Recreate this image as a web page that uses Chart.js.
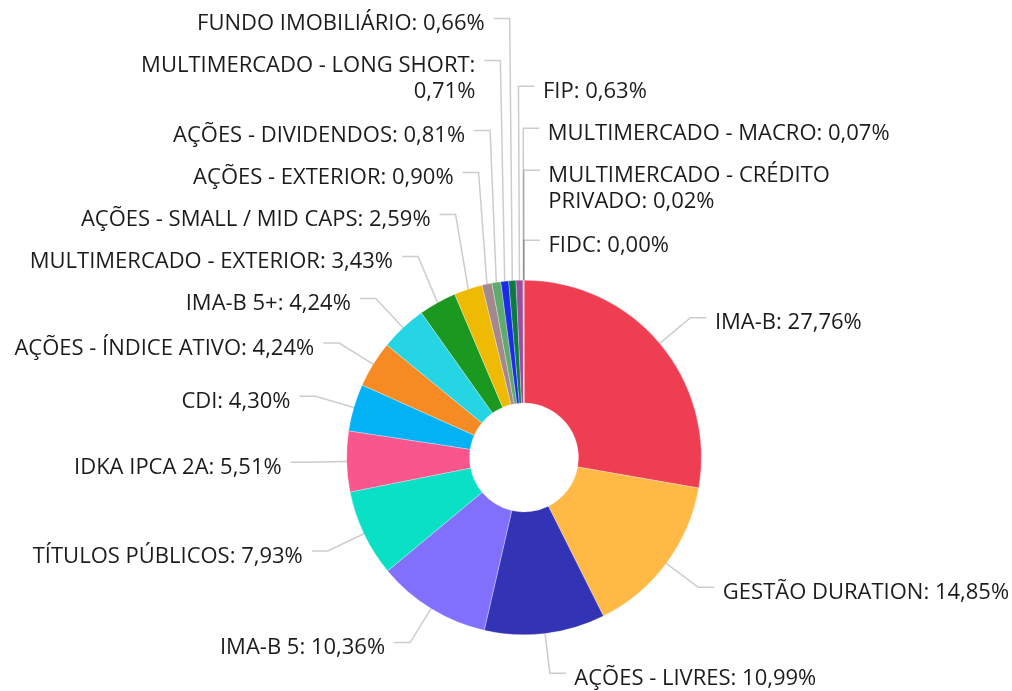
<!DOCTYPE html>
<html><head><meta charset="utf-8">
<script src="https://cdn.jsdelivr.net/npm/chart.js@4.4.0/dist/chart.umd.min.js"></script>
<style>html,body{margin:0;padding:0;background:#fff;overflow:hidden}canvas{display:block}</style>
</head><body>
<canvas id="c" width="1012" height="691"></canvas>
<script>
const categories = ["IMA-B","GESTÃO DURATION","AÇÕES - LIVRES","IMA-B 5","TÍTULOS PÚBLICOS","IDKA IPCA 2A","CDI","AÇÕES - ÍNDICE ATIVO","IMA-B 5+","MULTIMERCADO - EXTERIOR","AÇÕES - SMALL / MID CAPS","AÇÕES - EXTERIOR","AÇÕES - DIVIDENDOS","MULTIMERCADO - LONG SHORT","FUNDO IMOBILIÁRIO","FIP","MULTIMERCADO - MACRO","MULTIMERCADO - CRÉDITO PRIVADO","FIDC"];
const values = [27.76,14.85,10.99,10.36,7.93,5.51,4.30,4.24,4.24,3.43,2.59,0.90,0.81,0.71,0.66,0.63,0.07,0.02,0.00];
const sliceColors = ["#ef3e52","#ffb944","#3333b5","#8170fc","#09e0c5","#f9568e","#03b2f4","#f68a23","#26d5e4","#1b981f","#eeba03","#a3888d","#5fab6e","#1b2be8","#0c7b42","#9a4f9e","#54c7c3","#7b7b7b","#444444"];

function fmtLabel(i){ return categories[i] + ': ' + values[i].toFixed(2).replace('.', ',') + '%'; }

function wrapText(ctx, text, maxW){
  const words = text.split(' ');
  const lines = []; let cur = '';
  for (const w of words){
    const t = cur ? cur + ' ' + w : w;
    if (cur && ctx.measureText(t).width > maxW){ lines.push(cur); cur = w; }
    else cur = t;
  }
  if (cur) lines.push(cur);
  return lines;
}

const outsideLabels = {
  id: 'outsideLabels',
  afterDatasetsDraw(chart){
    const ctx = chart.ctx;
    const meta = chart.getDatasetMeta(0);
    ctx.save();
    ctx.font = '22px "Open Sans"';
    const L1 = 40, L2 = 16, ATT = 18;
    const left = [], right = [];
    meta.data.forEach((arc, i) => {
      const p = arc.getProps(['x','y','startAngle','endAngle','outerRadius'], true);
      const mid = (p.startAngle + p.endAngle) / 2;
      const c = Math.cos(mid), s = Math.sin(mid);
      const r0 = p.outerRadius, r1 = r0 + L1;
      const t = mid + Math.PI/2; // clockwise from top
      const lines = wrapText(ctx, fmtLabel(i), 380);
      const it = { i, x0: p.x + r0*c, y0: p.y + r0*s, ex: p.x + r1*c, ny: p.y + r1*s,
        lines, h: 42 + 28*(lines.length-1) };
      it.top = it.ny - ATT;
      if (c > -0.03){ it.right = true; it.key = t > Math.PI ? t - 2*Math.PI : t; right.push(it); }
      else { it.right = false; it.key = -t; left.push(it); }
    });
    [left, right].forEach(arr => {
      arr.sort((a,b) => a.key - b.key);
      for (let k = arr.length - 2; k >= 0; k--){
        const maxTop = arr[k+1].top - arr[k].h;
        if (arr[k].top > maxTop) arr[k].top = maxTop;
      }
    });
    const all = left.concat(right);
    ctx.strokeStyle = 'rgba(0,0,0,0.2)';
    ctx.lineWidth = 1.5;
    all.forEach(it => {
      const ay = it.top + ATT;
      const dir = it.right ? 1 : -1;
      const endX = it.ex + dir*L2;
      ctx.beginPath();
      ctx.moveTo(it.x0, it.y0);
      ctx.lineTo(it.ex, ay);
      ctx.lineTo(endX, ay);
      ctx.stroke();
      ctx.fillStyle = '#1c1c1c';
      ctx.textBaseline = 'middle';
      ctx.textAlign = it.right ? 'left' : 'right';
      const tx = it.right ? endX + 8.5 : endX - 9;
      it.lines.forEach((ln, j) => ctx.fillText(ln, tx, ay + 5.5 + 26*j));
    });
    ctx.restore();
  }
};

new Chart(document.getElementById('c'), {
  type: 'doughnut',
  data: { labels: categories, datasets: [{ data: values, backgroundColor: sliceColors, borderColor: '#ffffff', borderWidth: 0.3 }] },
  options: {
    responsive: false, animation: false, devicePixelRatio: 1, cutout: '30.7%',
    layout: { padding: { left: 346.5, right: 310.5, top: 280, bottom: 56 } },
    plugins: { legend: { display: false }, tooltip: { enabled: false } }
  },
  plugins: [outsideLabels]
});
</script>
</body></html>
